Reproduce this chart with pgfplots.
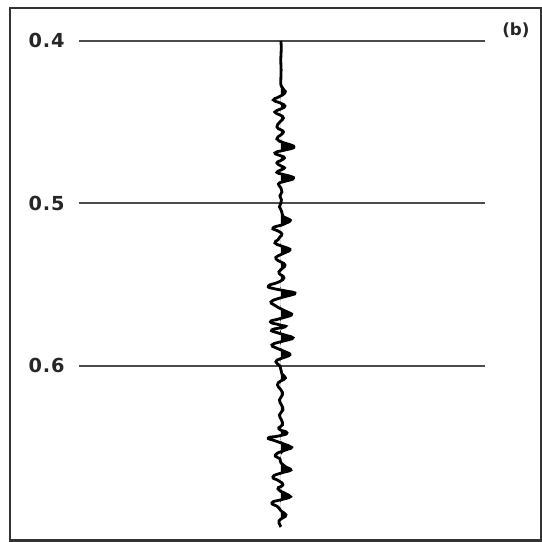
\documentclass[border=0pt]{standalone}
\usepackage{pgfplots}
\usepackage{pgfplotstable}
\usepackage{fontspec}
\setmainfont{DejaVu Sans}
\newfontfamily\lblfont[LetterSpace=4]{DejaVu Sans Bold}
\pgfplotsset{compat=1.18}

\pgfplotstableread{
a t
0 0.4000
0.3 0.4056
-0.2 0.4118
0.2 0.4179
-0.1 0.4241
0.3 0.4278
3 0.4302
4 0.4321
-2 0.4345
-7.5 0.4364
-1 0.4382
4 0.4401
0 0.4419
-6 0.4438
-1 0.4456
2.5 0.4475
-1 0.4499
-4 0.4530
0 0.4548
2.5 0.4561
0 0.4579
-4 0.4604
3 0.4628
10 0.4641
13 0.4653
10 0.4664
2 0.4675
-6 0.4690
0 0.4708
3.5 0.4721
-1 0.4739
-4 0.4752
0 0.4770
3.5 0.4782
0 0.4795
-4 0.4810
2 0.4822
10 0.4835
12.5 0.4846
9 0.4857
2 0.4868
-2.5 0.4881
0 0.4905
1 0.4930
-1 0.4955
0.5 0.4979
0 0.4998
-1.5 0.5022
0.5 0.5047
1.5 0.5070
3 0.5085
8 0.5098
9 0.5110
5 0.5122
1 0.5133
-8 0.5152
-3 0.5170
1 0.5189
-1 0.5207
-3 0.5225
-6 0.5244
0 0.5262
7 0.5277
9 0.5288
6 0.5299
2 0.5310
-3 0.5324
-5 0.5342
0 0.5361
4 0.5379
2 0.5398
-2 0.5422
0 0.5441
3 0.5459
-2 0.5484
-12.5 0.5509
-6 0.5527
5 0.5540
14 0.5552
10 0.5565
2 0.5578
-4 0.5589
-10 0.5607
-7 0.5625
-2 0.5644
4 0.5662
9 0.5676
10.5 0.5687
6 0.5698
-2 0.5712
-10.5 0.5730
-1 0.5749
4 0.5761
-9 0.5779
-3 0.5798
5 0.5813
12 0.5828
7 0.5841
-2 0.5855
-9 0.5872
-5 0.5890
2 0.5908
7 0.5921
9 0.5933
5 0.5945
-1 0.5958
-5 0.5976
-1 0.6001
0 0.6025
1 0.6050
4.5 0.6075
0 0.6093
-3.5 0.6118
0 0.6148
1.5 0.6179
-1.5 0.6210
0.5 0.6241
2 0.6272
-1.5 0.6302
0.5 0.6333
1.5 0.6364
-2 0.6389
6 0.6413
-2 0.6432
-12.5 0.6444
-6 0.6462
4 0.6484
9 0.6497
10 0.6508
4 0.6520
-5.5 0.6549
-1 0.6573
0 0.6598
5 0.6624
9.5 0.6636
8 0.6648
1 0.6659
-8 0.6684
-2 0.6709
2 0.6733
-3 0.6758
4 0.6785
8.5 0.6800
8 0.6812
0 0.6825
-9 0.6844
-3 0.6869
0 0.6893
5 0.6918
2 0.6936
-2 0.6955
-1 0.6979
0 0.6992
}\trace

\begin{document}
\begin{tikzpicture}
\begin{axis}[
  width=10.62cm, height=10.65cm, scale only axis,
  xmin=-271, xmax=260, ymin=0.3798, ymax=0.7075, y dir=reverse,
  xtick=\empty, ytick={0.4,0.5,0.6}, yticklabels={0.4,0.5,0.6},
  major tick length=0,
  yticklabel style={anchor=west, xshift=0.25cm, font=\lblfont\fontsize{11}{13}\selectfont, text=black!85},
  axis line style={line width=1.3pt, black!80},
]
\addplot[line width=1pt, black!70] coordinates {(-202,0.4) (204,0.4)};
\addplot[line width=1pt, black!70] coordinates {(-202,0.5) (204,0.5)};
\addplot[line width=1pt, black!70] coordinates {(-202,0.6) (204,0.6)};
\addplot[fill=black, draw=none, smooth, tension=1] table[x expr={max(\thisrow{a},0)}, y=t]{\trace} -- cycle;
\addplot[line width=1.6pt, black, smooth, tension=1] table[x=a,y=t]{\trace};
\node[font=\bfseries\fontsize{9.5}{11}\selectfont, text=black!85] at (axis cs:235,0.3933) {(b)};
\end{axis}
\path ([shift={(-0.2cm,-0.03cm)}]current axis.south west) rectangle ([shift={(0.02cm,0.16cm)}]current axis.north east);
\end{tikzpicture}
\end{document}
